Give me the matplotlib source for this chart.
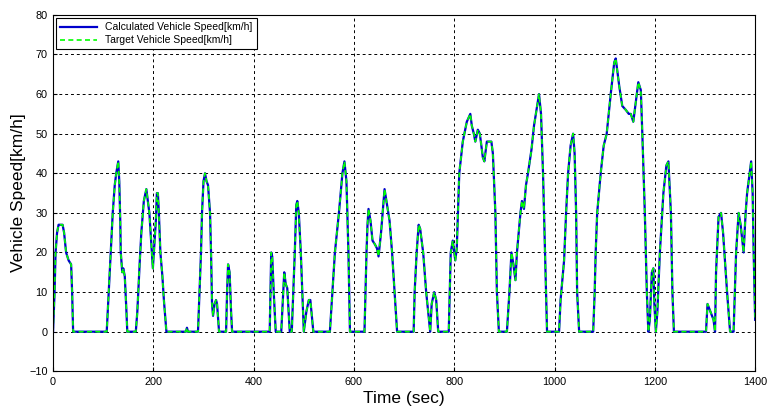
import matplotlib
matplotlib.use('Agg')
import matplotlib.pyplot as plt

# Speed profile (time [s], speed [km/h])
time_sec = [0, 3, 5, 8, 11, 15, 19, 22, 26, 31, 36, 38, 40,
            107, 111, 115, 119, 123, 126, 130, 132, 134, 135, 138, 140, 143, 146, 148,
            165, 168, 173, 176, 181, 186, 189, 192, 197, 199, 202, 205, 207, 209, 211, 214, 218, 221, 226,
            265, 267, 269,
            289, 292, 295, 297, 300, 303, 306, 309, 313, 315, 317, 319, 322, 325, 327, 331,
            345, 347, 349, 352, 355, 357,
            432, 435, 437, 440, 444,
            455, 461, 464, 467, 472,
            476, 479, 482, 485, 487, 490, 494, 497, 500,
            505, 510, 513, 519,
            552, 557, 562, 570, 577, 581, 585, 589, 592,
            621, 623, 625, 627, 629, 633, 637, 642, 646, 649, 654, 659, 661, 666, 671, 676, 681, 686,
            719, 721, 725, 729, 732, 738, 744, 748, 752, 755, 760, 764, 768,
            789, 791, 793, 797, 800, 802, 805, 810, 817, 825, 832, 835, 839, 842, 847, 851, 857, 860,
            865, 874, 877, 882, 885, 889,
            905, 910, 914, 918, 922, 925, 932, 935, 939, 943, 947, 954, 959, 964, 969, 973, 977, 981, 985,
            1009, 1012, 1017, 1019, 1023, 1027, 1032, 1037, 1040, 1043, 1045, 1049,
            1077, 1080, 1082, 1085, 1092, 1098, 1104, 1112, 1119, 1122, 1129, 1135, 1142, 1148, 1152,
            1157, 1162, 1167, 1172, 1175, 1180, 1184, 1187, 1190, 1194, 1197, 1199, 1202,
            1205, 1210, 1217, 1223, 1227, 1232, 1235, 1238,
            1302, 1305, 1311, 1317, 1320, 1322, 1327, 1332, 1336, 1344, 1350,
            1357, 1362, 1367, 1371, 1377, 1381, 1384, 1389, 1392, 1395, 1397, 1400]

target_speed = [0, 10, 20, 25, 27, 27, 27, 25, 20, 18, 17, 10, 0,
                0, 10, 20, 30, 37, 40, 43, 38, 28, 20, 15, 16, 14, 6, 0,
                0, 5, 18, 25, 33, 36, 33, 30, 20, 16, 22, 28, 35, 35, 30, 20, 14, 8, 0,
                0, 1, 0,
                0, 10, 20, 30, 38, 40, 38, 37, 30, 20, 7, 4, 7, 8, 7, 0,
                0, 10, 17, 15, 5, 0,
                0, 20, 19, 10, 0,
                0, 15, 12, 11, 0,
                0, 10, 20, 32, 33, 30, 20, 10, 0,
                5, 8, 8, 0,
                0, 10, 20, 30, 40, 43, 38, 20, 0,
                0, 10, 20, 27, 31, 28, 23, 22, 21, 19, 25, 33, 36, 32, 28, 20, 10, 0,
                0, 10, 20, 27, 26, 20, 10, 5, 0, 7, 10, 8, 0,
                0, 10, 20, 23, 20, 18, 21, 40, 48, 53, 55, 52, 50, 48, 51, 50, 44, 43,
                48, 48, 45, 30, 10, 0,
                0, 10, 20, 17, 13, 20, 30, 33, 31, 37, 40, 46, 52, 56, 60, 55, 40, 20, 0,
                0, 8, 15, 18, 30, 40, 47, 50, 45, 30, 10, 0,
                0, 10, 20, 30, 40, 47, 50, 60, 68, 69, 62, 57, 56, 55, 55,
                53, 58, 63, 61, 50, 30, 10, 0, 3, 15, 16, 7, 0,
                5, 20, 35, 42, 43, 30, 10, 0,
                0, 7, 5, 3, 0, 15, 29, 30, 25, 10, 0,
                0, 20, 30, 27, 20, 30, 35, 40, 43, 35, 20, 3]

# calculated speed follows the target almost exactly
calc_speed = list(target_speed)

x_ticks = list(range(0, 1401, 200))
y_ticks = list(range(-10, 81, 10))

plt.rcParams['font.family'] = ['Liberation Sans', 'DejaVu Sans']

fig = plt.figure(figsize=(7.69, 4.13), dpi=100)
ax = fig.add_axes([0.069, 0.101, 0.913, 0.863])

ax.plot(time_sec, calc_speed, color='#0000cc', linewidth=1.6,
        label='Calculated Vehicle Speed[km/h]')
ax.plot(time_sec, target_speed, color='#00ff00', linewidth=1.2,
        linestyle=(0, (3, 2)), label='Target Vehicle Speed[km/h]')

ax.set_xlim(0, 1400)
ax.set_ylim(-10, 80)
ax.set_xticks(x_ticks)
ax.set_yticks(y_ticks)
ax.tick_params(direction='in', labelsize=7.8, length=3, colors='black', pad=4)
ax.grid(True, color='black', linestyle=(0, (3, 3)), linewidth=0.7)

ax.set_xlabel('Time (sec)', fontsize=12.5, labelpad=3)
ax.set_ylabel('Vehicle Speed[km/h]', fontsize=12.5, labelpad=2)

leg = ax.legend(loc='upper left', fontsize=7.5, fancybox=False, framealpha=1,
                edgecolor='black', borderaxespad=0.3, handlelength=3.5,
                borderpad=0.4, labelspacing=0.3)
leg.get_frame().set_linewidth(0.8)

fig.savefig('out.png', dpi=100)
